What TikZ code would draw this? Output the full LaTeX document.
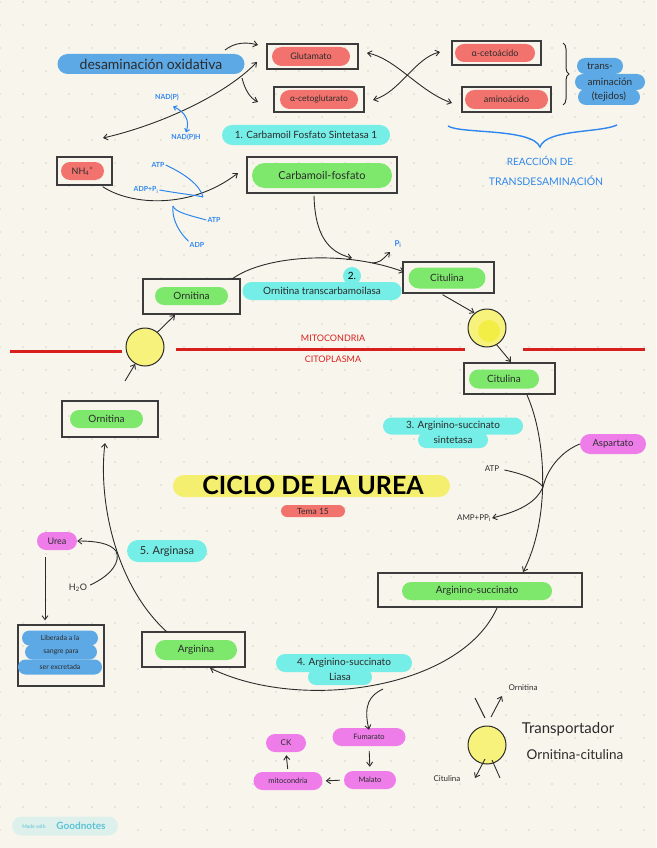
\documentclass[tikz,border=0pt]{standalone}
\usepackage{fontspec}
\setmainfont{Lato}
\usetikzlibrary{arrows.meta,shapes.misc,decorations.pathreplacing}
\definecolor{bgc}{HTML}{F8F6EC}
\definecolor{dotc}{HTML}{D6D4CA}
\definecolor{ink}{HTML}{2B2B2B}
\definecolor{boxc}{HTML}{3C3C3C}
\definecolor{redp}{HTML}{F2736E}
\definecolor{greenp}{HTML}{7DE86C}
\definecolor{cyanp}{HTML}{74EEE6}
\definecolor{bluep}{HTML}{5DA9E6}
\definecolor{magp}{HTML}{EE7DEA}
\definecolor{yelp}{HTML}{F4EF6E}
\definecolor{bluet}{HTML}{2F86EE}
\definecolor{redl}{HTML}{D91E1E}
\definecolor{circy}{HTML}{F6F27C}
\definecolor{circin}{HTML}{F3EE45}
\definecolor{gnp}{HTML}{DDF0EB}
\definecolor{gnt}{HTML}{5BC3D6}
\begin{document}
\begin{tikzpicture}[x=1pt,y=-1pt,
 box/.style={draw=boxc,line width=1.3pt,inner sep=0pt},
 pill/.style={rounded rectangle,fill=#1,inner sep=0pt,text=ink,font=\fontsize{9}{10}\selectfont},
 conn/.style={draw=ink,line width=0.9pt,-{Straight Barb[length=4pt,width=6pt]}},
 dconn/.style={draw=ink,line width=0.9pt,{Straight Barb[length=4pt,width=6pt]}-{Straight Barb[length=4pt,width=6pt]}},
 plain/.style={draw=ink,line width=0.9pt},
 bconn/.style={draw=bluet,line width=1pt},
 blab/.style={text=bluet,font=\fontsize{7}{8}\selectfont\bfseries,inner sep=1pt},
 klab/.style={text=ink,font=\fontsize{8}{9}\selectfont,inner sep=1pt},
 ycirc/.style={circle,draw=ink,line width=1pt,fill=circy,minimum size=38pt,inner sep=0pt},
 redline/.style={draw=redl,line width=3pt},
]
\fill[bgc] (0,0) rectangle (656,848);
\path[use as bounding box] (0,0) rectangle (656,848);
\foreach \i in {0,...,28}{\foreach \j in {0,...,36}{\fill[dotc] (23*\i,23*\j+2) circle (0.9);}}

% ---------- top: transdesaminacion ----------
\node[pill=bluep,minimum width=187pt,minimum height=20pt,font=\fontsize{14}{16}\selectfont] (desox) at (151,64) {desaminación oxidativa};

\node[box,minimum width=91pt,minimum height=25pt] (glubox) at (312.5,56.5) {};
\node[pill=redp,minimum width=78pt,minimum height=19pt] (glu) at (311,56.5) {Glutamato};
\node[box,minimum width=90pt,minimum height=25pt] (akgbox) at (319,99.5) {};
\node[pill=redp,minimum width=78pt,minimum height=19pt,font=\fontsize{8.5}{10}\selectfont] (akg) at (319,99.5) {α-cetoglutarato};
\node[box,minimum width=89pt,minimum height=24pt] (akabox) at (496.5,53) {};
\node[pill=redp,minimum width=80pt,minimum height=18pt] (aka) at (495,53) {α-cetoácido};
\node[box,minimum width=89pt,minimum height=25pt] (aabox) at (506.5,99.5) {};
\node[pill=redp,minimum width=83pt,minimum height=19pt] (aa) at (506.5,99.5) {aminoácido};

\coordinate (xa1) at (367,53);
\coordinate (xa2) at (452,103);
\coordinate (xb1) at (373,100);
\coordinate (xb2) at (440,52);
\draw[dconn] (xa1) .. controls (395,58) and (420,92) .. (xa2);
\draw[dconn] (xb1) .. controls (400,92) and (415,58) .. (xb2);

\draw[ink,line width=1pt,decorate,decoration={brace,amplitude=6pt}] (563,43) -- (563,105);
\node[pill=bluep,minimum width=46pt,minimum height=16pt,font=\fontsize{10}{11}\selectfont] (ta1) at (600,66) {trans-};
\node[pill=bluep,minimum width=70pt,minimum height=16pt,font=\fontsize{10}{11}\selectfont] (ta2) at (610,82) {aminación};
\node[pill=bluep,minimum width=62pt,minimum height=16pt,font=\fontsize{10}{11}\selectfont] (ta3) at (609,97) {(tejidos)};

\coordinate (br1) at (448,126);
\coordinate (br2) at (540,147);
\coordinate (br3) at (617,125);
\draw[bconn,line width=1.4pt] (br1) .. controls (460,134) and (532,128) .. (br2) .. controls (546,129) and (600,133) .. (br3);
\node[text=bluet,font=\fontsize{10}{11}\selectfont] (rx1) at (540,161) {REACCIÓN DE};
\node[text=bluet,font=\fontsize{10.5}{11}\selectfont] (rx2) at (546,181) {TRANSDESAMINACIÓN};

% desaminacion arrows
\coordinate (d1) at (225,50);
\coordinate (d2) at (258,45);
\draw[conn] (d1) .. controls (235,42) and (247,42) .. (d2);
\coordinate (e1) at (257,62);
\coordinate (e2) at (103,138);
\coordinate (ej) at (242,78);
\coordinate (e3) at (258,102);
\draw[dconn] (e1) .. controls (225,95) and (160,125) .. (e2);
\draw[conn] (ej) .. controls (245,90) and (250,98) .. (e3);

\node[blab] (nadp) at (167,97) {NAD(P)};
\node[blab] (nadph) at (186,137) {NAD(P)H};
\draw[bconn,{Straight Barb[length=3pt,width=5pt]}-{Straight Barb[length=3pt,width=5pt]}] (nadp.south) ++(6,5) .. controls (185,112) and (190,120) .. (nadph.north);

\node[pill=cyanp,minimum width=168pt,minimum height=20pt,font=\fontsize{10}{11}\selectfont] (cps) at (306,135) {1. Carbamoil Fosfato Sintetasa 1};

% ---------- NH4 -> carbamoil fosfato ----------
\node[box,minimum width=55pt,minimum height=28pt] (nhbox) at (84.5,171) {};
\node[pill=redp,minimum width=43pt,minimum height=18pt] (nh) at (82.5,171) {NH\textsubscript{4}\textsuperscript{+}};
\node[box,minimum width=150pt,minimum height=36pt] (cpbox) at (322,175) {};
\node[pill=greenp,minimum width=140pt,minimum height=25pt,font=\fontsize{11}{12}\selectfont] (cp) at (322,175.5) {Carbamoil-fosfato};

\draw[conn] (nhbox.south east) ++(-10,1) .. controls (130,205) and (190,210) .. (238,173);
\node[blab] (atp1) at (158,165) {ATP};
\node[blab] (adppi) at (146,190) {ADP+P\textsubscript{i}};
\node[blab] (atp2) at (214,220) {ATP};
\node[blab] (adp) at (197,245) {ADP};
\coordinate (bj1) at (203,197);
\coordinate (bj2) at (173,206);
\draw[bconn] (atp1.east) .. controls (185,174) and (200,185) .. (bj1);
\draw[bconn] (adppi.east) .. controls (182,194) and (195,195) .. (bj1);
\draw[bconn] (atp2.west) .. controls (188,215) and (175,212) .. (bj2);
\draw[bconn] (adp.north west) .. controls (175,228) and (172,215) .. (bj2);

% ---------- mitochondria part ----------
\node[box,minimum width=97pt,minimum height=35pt] (ornmbox) at (191.5,296.5) {};
\node[pill=greenp,minimum width=73pt,minimum height=18pt,font=\fontsize{10}{11}\selectfont] (ornm) at (191.5,296) {Ornitina};
\node[box,minimum width=91pt,minimum height=31pt] (citmbox) at (448.5,277.5) {};
\node[pill=greenp,minimum width=77pt,minimum height=21pt,font=\fontsize{10}{11}\selectfont] (citm) at (447,278) {Citulina};

\coordinate (ta) at (232,279);
\coordinate (tm) at (352,258);
\coordinate (tb) at (404,272);
\draw[conn] (ta) .. controls (265,255) and (345,250) .. (tb);
\draw[conn] (cpbox.south) ++(-8,2) .. controls (315,235) and (328,252) .. (tm);
\coordinate (pj) at (372,263);
\coordinate (pe) at (390,252);
\draw[conn] (pj) .. controls (380,262) .. (pe);
\node[blab,font=\fontsize{8}{9}\selectfont\bfseries] (pi) at (398,244) {P\textsubscript{i}};

\node[circle,fill=cyanp,minimum size=18pt,inner sep=0pt,font=\fontsize{10}{11}\selectfont] (n2) at (352,276) {2.};
\node[pill=cyanp,minimum width=159pt,minimum height=18pt,font=\fontsize{10}{11}\selectfont] (otc) at (322,291) {Ornitina transcarbamoilasa};

\node[ycirc] (tl) at (145,347) {};
\node[ycirc] (tr) at (487,328) {};
\fill[circin] (489,331) circle (11);

\draw[redline] (10,351) -- (122,351);
\draw[redline] (176,349) -- (465,349);
\draw[redline] (523,349) -- (645,349);
\node[text=redl,font=\fontsize{9}{10}\selectfont] (mito) at (333,338) {MITOCONDRIA};
\node[text=redl,font=\fontsize{9}{10}\selectfont] (cito) at (333,359) {CITOPLASMA};

\draw[conn] (citmbox.south) ++(-6,1) -- (tr.130);
\draw[conn] (tr.300) -- (511,362);
\draw[conn] (tl.50) -- (175,315);

% ---------- cytoplasm cycle ----------
\node[box,minimum width=91pt,minimum height=31pt] (citcbox) at (509.5,378.5) {};
\node[pill=greenp,minimum width=70pt,minimum height=19pt,font=\fontsize{10}{11}\selectfont] (citc) at (504,379) {Citulina};
\node[box,minimum width=96pt,minimum height=36pt] (orncbox) at (110,419) {};
\node[pill=greenp,minimum width=73pt,minimum height=18pt,font=\fontsize{10}{11}\selectfont] (ornc) at (106.5,419) {Ornitina};
\draw[conn] (125,381) -- (tl.240);

\node[pill=yelp,minimum width=277pt,minimum height=22pt] (titlebg) at (311.5,486) {};
\node[text=black,font=\fontsize{25}{26}\selectfont\bfseries,inner sep=0pt] (title) at (313,485) {CICLO DE LA UREA};
\node[pill=redp,minimum width=64pt,minimum height=12pt,font=\fontsize{8.5}{9}\selectfont] (tema) at (313,511) {Tema 15};

% right arc: citrulina -> argininosuccinato
\node[box,minimum width=204pt,minimum height=34pt] (asbox) at (480,590) {};
\node[pill=greenp,minimum width=150pt,minimum height=18pt,font=\fontsize{10}{11}\selectfont] (as) at (477,591) {Arginino-succinato};
\draw[conn] (527,395) .. controls (547,440) and (550,520) .. (523,572);
\node[pill=cyanp,minimum width=140pt,minimum height=17pt,font=\fontsize{10}{11}\selectfont] (ass1) at (453,426) {3. Arginino-succinato};
\node[pill=cyanp,minimum width=70pt,minimum height=16pt,font=\fontsize{10}{11}\selectfont] (ass2) at (453,440) {sintetasa};
\node[pill=magp,minimum width=66pt,minimum height=20pt,font=\fontsize{9.5}{10}\selectfont] (asp) at (613,444) {Aspartato};
\node[klab] (atp3) at (492,469) {ATP};
\node[klab] (amp) at (474,518) {AMP+PP\textsubscript{i}};
\coordinate (aj) at (543,487);
\draw[plain] (asp.west) .. controls (560,452) and (547,470) .. (aj);
\draw[plain] (atp3.east) ++(4,1) .. controls (524,474) and (538,480) .. (aj);
\draw[conn] (aj) .. controls (535,505) and (515,512) .. (amp.east);

% bottom arc: argininosuccinato -> arginina
\node[box,minimum width=103pt,minimum height=35pt] (argbox) at (193.5,649.5) {};
\node[pill=greenp,minimum width=82pt,minimum height=20pt,font=\fontsize{10}{11}\selectfont] (arg) at (196,650) {Arginina};
\coordinate (bj) at (383,689);
\draw[conn] (497,608) .. controls (460,690) and (300,712) .. (210,668);
\node[pill=cyanp,minimum width=136pt,minimum height=18pt,font=\fontsize{10}{11}\selectfont] (asl1) at (344,663) {4. Arginino-succinato};
\node[pill=cyanp,minimum width=64pt,minimum height=16pt,font=\fontsize{10}{11}\selectfont] (asl2) at (340,677) {Liasa};

\node[pill=magp,minimum width=73pt,minimum height=18pt,font=\fontsize{7.5}{8}\selectfont] (fum) at (369,737) {Fumarato};
\node[pill=magp,minimum width=52pt,minimum height=18pt,font=\fontsize{7.5}{8}\selectfont] (mal) at (370,780) {Malato};
\node[pill=magp,minimum width=69pt,minimum height=18pt,font=\fontsize{7.5}{8}\selectfont] (mitoc) at (288,781) {mitocondria};
\node[pill=magp,minimum width=40pt,minimum height=18pt,font=\fontsize{8}{9}\selectfont] (ck) at (286,743) {CK};
\draw[conn] (bj) .. controls (370,695) and (363,705) .. ([yshift=-2pt]fum.north);
\draw[conn,shorten <=5pt,shorten >=4pt] (fum.south) -- (mal.north);
\draw[conn,shorten <=4pt,shorten >=3pt] (mal.west) -- (mitoc.east);
\draw[conn,shorten <=3pt,shorten >=3pt] (mitoc.north) -- (ck.south);

% left arc: arginina -> ornitina
\draw[conn] (167,632) .. controls (115,585) and (98,500) .. (105,443);
\node[pill=cyanp,minimum width=80pt,minimum height=22pt,font=\fontsize{11}{12}\selectfont] (argn) at (167,551) {5. Arginasa};
\node[pill=magp,minimum width=40pt,minimum height=18pt,font=\fontsize{9}{10}\selectfont] (urea) at (57,541) {Urea};
\node[klab,font=\fontsize{9}{10}\selectfont] (h2o) at (78,588) {H\textsubscript{2}O};
\draw[conn] (h2o.east) ++(2,-3) .. controls (112,575) and (121,561) .. (116,551) .. controls (110,543) and (95,541) .. (urea.east);

\node[box,minimum width=86pt,minimum height=61pt] (libbox) at (61,655.5) {};
\node[pill=bluep,minimum width=76pt,minimum height=15pt,font=\fontsize{7}{8}\selectfont] (lib1) at (60,638) {Liberada a la};
\node[pill=bluep,minimum width=72pt,minimum height=15pt,font=\fontsize{7}{8}\selectfont] (lib2) at (61,652) {sangre para};
\node[pill=bluep,minimum width=84pt,minimum height=15pt,font=\fontsize{7}{8}\selectfont] (lib3) at (60,667) {ser excretada};
\draw[conn] ([xshift=-12pt,yshift=-7pt]urea.south) -- ([xshift=-16pt,yshift=4pt]libbox.north);

% ---------- transporter legend ----------
\node[ycirc] (trp) at (487,745) {};
\draw[plain] (475,698) -- (485,718);
\draw[conn] (491,717) -- (502,696);
\draw[conn] (485,759) -- (475,778);
\draw[plain] (492,760) -- (500,778);
\node[klab] (lo) at (523,688) {Ornitina};
\node[klab] (lc) at (447,779) {Citulina};
\node[text=ink,font=\fontsize{15}{16}\selectfont] (tr1) at (568,729) {Transportador};
\node[text=ink,font=\fontsize{13.5}{15}\selectfont] (tr2) at (575,755) {Ornitina-citulina};

% ---------- footer ----------
\node[pill=gnp,minimum width=106pt,minimum height=19pt] (gn) at (65,826) {};
\node[text=gnt,font=\fontsize{5}{6}\selectfont,inner sep=0pt] (gn1) at (34,826.5) {Made with};
\node[text=gnt,font=\fontsize{10}{11}\selectfont\bfseries,inner sep=0pt] (gn2) at (81,826) {Goodnotes};
\end{tikzpicture}
\end{document}
